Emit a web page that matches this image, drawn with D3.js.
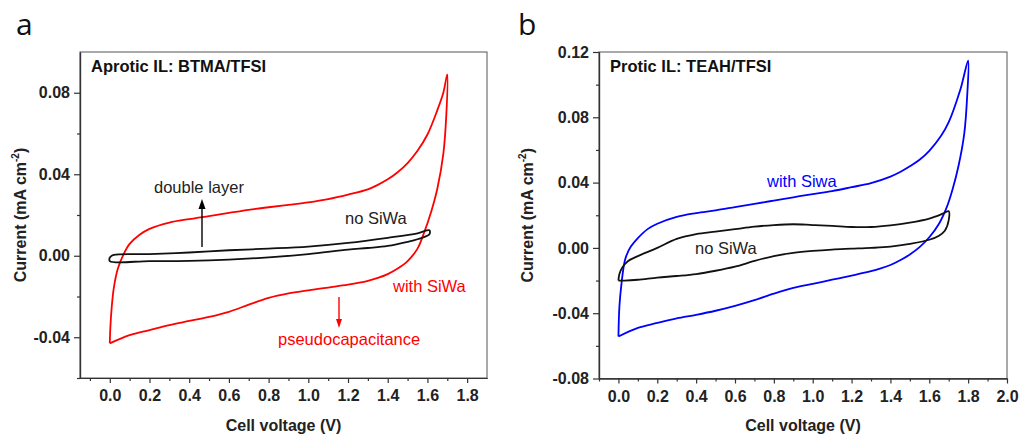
<!DOCTYPE html>
<html>
<head>
<meta charset="utf-8">
<script src="https://cdn.jsdelivr.net/npm/d3@7"></script>
<style>
  html, body { margin: 0; padding: 0; background: #fff; }
  svg { display: block; font-family: "Liberation Sans", Arial, sans-serif; }
</style>
</head>
<body>
<svg id="chart" width="1020" height="435"></svg>
<script>
// ---------- Data ----------
// Panel a: Aprotic IL BTMA/TFSI
const aRedV = [0, 0.1, 0.2, 0.3, 0.4, 0.5, 0.6, 0.7, 0.8, 0.9, 1.0, 1.1, 1.2, 1.3, 1.35, 1.4, 1.45, 1.5, 1.55, 1.58, 1.62, 1.65, 1.68, 1.695, 1.70,
               1.68, 1.65, 1.6, 1.55, 1.5, 1.45, 1.4, 1.35, 1.3, 1.2, 1.1, 1.0, 0.9, 0.8, 0.7, 0.6, 0.5, 0.4, 0.3, 0.2, 0.15, 0.1, 0.07, 0.04, 0.02, 0.01, 0.003, 0];
const aRedI = [-0.043, -0.039, -0.0365, -0.034, -0.032, -0.030, -0.0275, -0.024, -0.0207, -0.0185, -0.017, -0.0156, -0.0142, -0.0123, -0.0109, -0.0090, -0.0063, -0.0026, 0.0035, 0.0105, 0.022, 0.033, 0.050, 0.069, 0.089,
               0.080, 0.0715, 0.0595, 0.0515, 0.0455, 0.041, 0.0375, 0.0348, 0.0326, 0.030, 0.0278, 0.0262, 0.025, 0.0238, 0.0225, 0.021, 0.0195, 0.018, 0.0163, 0.0132, 0.0103, 0.0058, 0.0008, -0.0065, -0.016, -0.025, -0.035, -0.043];
const aBlackV = [0, 0.02, 0.2, 0.4, 0.6, 0.8, 1.0, 1.2, 1.4, 1.55, 1.61, 1.61,
                 1.55, 1.5, 1.4, 1.3, 1.2, 1.0, 0.8, 0.6, 0.4, 0.2, 0.0, 0];
const aBlackI = [-0.0008, 0.0004, 0.0008, 0.0016, 0.0027, 0.0035, 0.0045, 0.0063, 0.0088, 0.011, 0.0125, 0.0105,
                 0.0081, 0.0068, 0.0048, 0.0038, 0.003, 0.0008, -0.0008, -0.0019, -0.0025, -0.0026, -0.0026, -0.0008];
const aXTicks = [0.0, 0.2, 0.4, 0.6, 0.8, 1.0, 1.2, 1.4, 1.6, 1.8];
const aXMinor = [-0.1, 0.1, 0.3, 0.5, 0.7, 0.9, 1.1, 1.3, 1.5, 1.7];
const aYTicks = [-0.04, 0.00, 0.04, 0.08];
const aYMinor = [-0.06, -0.02, 0.02, 0.06];

// Panel b: Protic IL TEAH/TFSI
const bBlueV = [0, 0.1, 0.2, 0.3, 0.4, 0.5, 0.6, 0.7, 0.8, 0.9, 1.0, 1.1, 1.2, 1.3, 1.35, 1.4, 1.45, 1.5, 1.55, 1.6, 1.65, 1.69, 1.72, 1.75, 1.78, 1.795, 1.80,
                1.76, 1.7, 1.66, 1.6, 1.55, 1.5, 1.45, 1.4, 1.3, 1.2, 1.1, 1.0, 0.9, 0.8, 0.7, 0.6, 0.5, 0.4, 0.3, 0.2, 0.15, 0.1, 0.064, 0.04, 0.03, 0.016, 0.005, 0];
const bBlueI = [-0.0543, -0.049, -0.046, -0.0432, -0.041, -0.0385, -0.0355, -0.032, -0.028, -0.0245, -0.022, -0.0195, -0.0170, -0.0143, -0.0126, -0.0105, -0.0076, -0.0040, 0.0005, 0.0065, 0.0148, 0.025, 0.036, 0.050, 0.070, 0.093, 0.1147,
                0.097, 0.077, 0.0685, 0.0595, 0.054, 0.050, 0.0465, 0.0437, 0.0397, 0.0372, 0.0348, 0.033, 0.031, 0.029, 0.027, 0.025, 0.023, 0.0213, 0.019, 0.0148, 0.0115, 0.006, 0.0008, -0.005, -0.0094, -0.0216, -0.036, -0.0543];
const bBlackV = [0, 0.005, 0.02, 0.05, 0.1, 0.2, 0.3, 0.4, 0.5, 0.6, 0.7, 0.8, 0.9, 1.0, 1.1, 1.2, 1.3, 1.4, 1.5, 1.6, 1.67, 1.70, 1.70,
                 1.68, 1.65, 1.6, 1.5, 1.4, 1.3, 1.2, 1.1, 1.0, 0.9, 0.8, 0.7, 0.6, 0.5, 0.4, 0.3, 0.2, 0.1, 0.03, 0];
const bBlackI = [-0.020, -0.016, -0.012, -0.008, -0.005, 0.000, 0.0055, 0.0085, 0.010, 0.0115, 0.013, 0.014, 0.0145, 0.014, 0.0135, 0.0128, 0.0128, 0.0138, 0.0155, 0.018, 0.021, 0.0225, 0.017,
                 0.0105, 0.0075, 0.005, 0.0025, 0.0008, 0.0, -0.0005, -0.001, -0.0018, -0.003, -0.005, -0.008, -0.0115, -0.014, -0.016, -0.0172, -0.0182, -0.0195, -0.020, -0.020];
const bXTicks = [0.0, 0.2, 0.4, 0.6, 0.8, 1.0, 1.2, 1.4, 1.6, 1.8, 2.0];
const bXMinor = [-0.1, 0.1, 0.3, 0.5, 0.7, 0.9, 1.1, 1.3, 1.5, 1.7, 1.9];
const bYTicks = [-0.08, -0.04, 0.00, 0.04, 0.08, 0.12];
const bYMinor = [-0.06, -0.02, 0.02, 0.06, 0.10];

// ---------- Drawing ----------
const svg = d3.select("#chart");
const axisColor = "#333";

function drawPanel(cfg) {
  const x = d3.scaleLinear().domain(cfg.xDomain).range([cfg.left, cfg.right]);
  const y = d3.scaleLinear().domain(cfg.yDomain).range([cfg.bottom, cfg.top]);
  const g = svg.append("g");

  // frame
  g.append("rect")
    .attr("x", cfg.left).attr("y", cfg.top)
    .attr("width", cfg.right - cfg.left).attr("height", cfg.bottom - cfg.top)
    .attr("fill", "none").attr("stroke", "#555").attr("stroke-width", 1);

  // x axis
  const xa = g.append("g").attr("transform", `translate(0,${cfg.bottom})`)
    .call(d3.axisBottom(x).tickValues(cfg.xTicks).tickSize(5).tickSizeOuter(0).tickPadding(7)
      .tickFormat(d => d.toFixed(1)));
  const xm = g.append("g").attr("transform", `translate(0,${cfg.bottom})`)
    .call(d3.axisBottom(x).tickValues(cfg.xMinor).tickSize(3).tickSizeOuter(0).tickFormat(""));
  // y axis
  const ya = g.append("g").attr("transform", `translate(${cfg.left},0)`)
    .call(d3.axisLeft(y).tickValues(cfg.yTicks).tickSize(6).tickSizeOuter(0).tickPadding(4)
      .tickFormat(d => d.toFixed(2)));
  const ym = g.append("g").attr("transform", `translate(${cfg.left},0)`)
    .call(d3.axisLeft(y).tickValues(cfg.yMinor).tickSize(3).tickSizeOuter(0).tickFormat(""));

  [xa, xm, ya, ym].forEach(a => {
    a.select(".domain").attr("stroke", axisColor).attr("stroke-width", 1.2);
    a.selectAll(".tick line").attr("stroke", axisColor).attr("stroke-width", 1.2);
    a.selectAll(".tick text").attr("fill", "#222").style("font-size", "16px").style("font-weight", "bold")
      .style("font-family", '"Liberation Sans", Arial, sans-serif');
  });

  // axis titles
  g.append("text")
    .attr("x", (cfg.left + cfg.right) / 2).attr("y", 431)
    .attr("text-anchor", "middle").attr("fill", "#222")
    .style("font-size", "16px").style("font-weight", "bold")
    .text("Cell voltage (V)");
  const yt = g.append("text")
    .attr("transform", `translate(${cfg.yTitleX},${(cfg.top + cfg.bottom) / 2}) rotate(-90)`)
    .attr("text-anchor", "middle").attr("fill", "#222")
    .style("font-size", "16px").style("font-weight", "bold");
  yt.append("tspan").text("Current (mA cm");
  yt.append("tspan").attr("dy", -7).style("font-size", "10px").text("-2");
  yt.append("tspan").attr("dy", 7).text(")");

  // panel letter
  svg.append("text").attr("x", cfg.letterX).attr("y", 35)
    .style("font-family", '"Open Sans", sans-serif').style("font-size", "30px").attr("fill", "#111")
    .text(cfg.letter);
  // inner title
  g.append("text").attr("x", cfg.left + 11).attr("y", 72)
    .style("font-size", "16.5px").style("font-weight", "bold").attr("fill", "#111")
    .text(cfg.title);

  const line = d3.line().x(d => x(d[0])).y(d => y(d[1])).curve(d3.curveCatmullRom.alpha(0.5));
  cfg.series.forEach(s => {
    g.append("path").datum(d3.zip(s.v, s.i))
      .attr("d", line).attr("fill", "none")
      .attr("stroke", s.color).attr("stroke-width", 1.8).attr("stroke-linejoin", "round");
  });
  return { g, x, y };
}

const A = drawPanel({
  left: 80, right: 487, top: 52, bottom: 378,
  xDomain: [-0.15, 1.9], yDomain: [-0.06, 0.10],
  xTicks: aXTicks, xMinor: aXMinor, yTicks: aYTicks, yMinor: aYMinor,
  yTitleX: 26, letter: "a", letterX: 16, title: "Aprotic IL: BTMA/TFSI",
  series: [
    { v: aRedV, i: aRedI, color: "#ff0000" },
    { v: aBlackV, i: aBlackI, color: "#111" }
  ]
});

const B = drawPanel({
  left: 599, right: 1007, top: 52, bottom: 378.5,
  xDomain: [-0.1, 2.0], yDomain: [-0.08, 0.12],
  xTicks: bXTicks, xMinor: bXMinor, yTicks: bYTicks, yMinor: bYMinor,
  yTitleX: 533, letter: "b", letterX: 518, title: "Protic IL: TEAH/TFSI",
  series: [
    { v: bBlueV, i: bBlueI, color: "#0000ff" },
    { v: bBlackV, i: bBlackI, color: "#111" }
  ]
});

// ---------- Annotations ----------
function label(g, x, y, text, color) {
  g.append("text").attr("x", x).attr("y", y).attr("fill", color)
    .style("font-size", "16.5px").text(text);
}
function arrow(g, x, y0, y1, color, hw, hl) {
  // vertical arrow from y0 to tip y1
  const dir = y1 < y0 ? 1 : -1;
  g.append("line").attr("x1", x).attr("x2", x).attr("y1", y0).attr("y2", y1 + dir * hl)
    .attr("stroke", color).attr("stroke-width", 1.4);
  g.append("path")
    .attr("d", `M${x},${y1} L${x - hw},${y1 + dir * hl} L${x + hw},${y1 + dir * hl} Z`)
    .attr("fill", color);
}

label(A.g, 154, 193, "double layer", "#222");
arrow(A.g, 202, 247, 199, "#000", 3.5, 10);
label(A.g, 345, 224, "no SiWa", "#222");
label(A.g, 393, 292, "with SiWa", "#ff0000");
arrow(A.g, 339, 297, 328, "#ff0000", 3, 9);
label(A.g, 278, 345, "pseudocapacitance", "#ff0000");

label(B.g, 767, 187, "with Siwa", "#0000ff");
label(B.g, 695, 254, "no SiWa", "#222");
</script>
</body>
</html>
